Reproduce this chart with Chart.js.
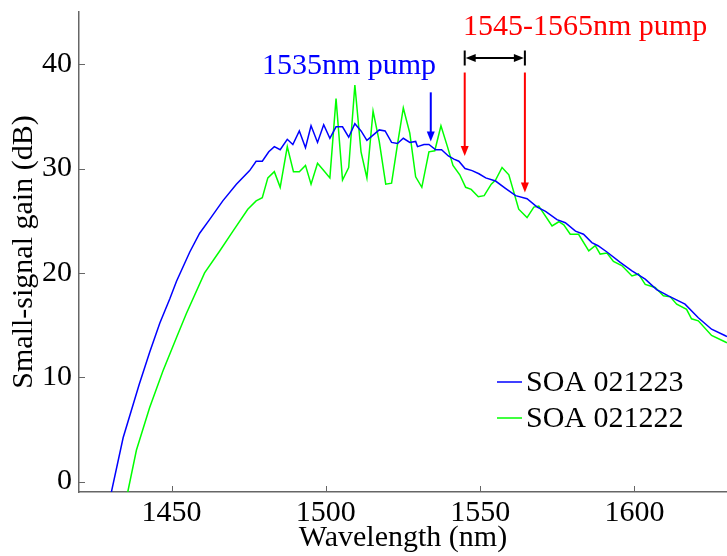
<!DOCTYPE html>
<html>
<head>
<meta charset="utf-8">
<title>Small-signal gain</title>
<script src="https://cdn.jsdelivr.net/npm/chart.js@4/dist/chart.umd.min.js"></script>
<style>
  html, body { margin: 0; padding: 0; background: #fff; }
  #wrap { width: 727px; height: 556px; }
</style>
</head>
<body>
<div id="wrap"><canvas id="gainChart" width="727" height="556"></canvas></div>
<script>
// ===============================
// Data
// ===============================
const wlBlue = [
  1430.5, 1434.3, 1439.5, 1442.9, 1446.2, 1449.4, 1451.6, 1455.9, 1459.1,
  1462.3, 1466.6, 1471.0, 1475.3, 1477.4, 1479.4, 1481.5, 1483.3, 1485.2, 1487.5,
  1489.3, 1491.4, 1493.4, 1495.2, 1497.3, 1499.3, 1501.3, 1503.3, 1505.4, 1507.4,
  1509.4, 1511.4, 1513.3, 1515.3, 1517.3, 1519.2, 1521.3, 1523.2, 1525.1, 1527.2,
  1529.1, 1529.7, 1531.8, 1533.4, 1535.6, 1537.5, 1539.7, 1541.5, 1543.1, 1545.1,
  1547.4, 1549.6, 1551.8, 1555.0, 1558.2, 1561.5, 1565.2, 1568.5, 1571.2, 1574.9,
  1577.6, 1580.9, 1583.5, 1586.2, 1588.2, 1591.1, 1595.4, 1599.2, 1603.5, 1607.2,
  1611.0, 1616.4, 1620.7, 1625.0, 1629.3, 1630.0
];
const gainBlue = [
  -1.0, 4.2, 9.3, 12.4, 15.2, 17.5, 19.2, 22.0, 23.8,
  25.1, 26.9, 28.5, 29.8, 30.7, 30.7, 31.6, 32.1, 31.8, 32.8,
  32.3, 33.6, 32.0, 34.1, 32.5, 34.2, 32.9, 34.0, 34.0, 33.0,
  34.3, 33.6, 32.7, 33.2, 33.7, 33.6, 32.5, 32.4, 32.9, 32.5,
  32.6, 32.1, 32.3, 32.3, 31.8, 31.8, 31.2, 30.9, 30.7, 30.0,
  29.8, 29.5, 29.1, 28.8, 28.1, 27.4, 27.1, 26.3, 25.9, 25.1,
  24.8, 24.0, 23.7, 22.9, 22.6, 22.0, 21.0, 20.2, 19.4, 18.4,
  17.8, 17.0, 15.7, 14.6, 14.0, 13.9
];

const wlGreen = [
  1435.8, 1438.6, 1442.9, 1447.2, 1451.6, 1454.8, 1460.7, 1465.6, 1469.9, 1474.7,
  1477.4, 1479.4, 1481.2, 1483.3, 1485.2, 1487.5, 1489.5, 1491.4, 1493.4, 1495.2,
  1497.3, 1499.3, 1501.3, 1503.3, 1505.4, 1507.4, 1509.4, 1511.4, 1513.3, 1515.3,
  1517.3, 1519.4, 1521.3, 1523.2, 1525.1, 1527.2, 1529.1, 1531.1, 1533.4, 1535.3,
  1537.3, 1539.4, 1541.2, 1543.4, 1545.3, 1547.1, 1549.4, 1551.3, 1553.6, 1555.0,
  1557.1, 1559.3, 1562.5, 1565.2, 1567.4, 1569.0, 1573.3, 1575.5, 1577.1, 1579.2,
  1581.9, 1585.2, 1587.3, 1588.9, 1591.1, 1593.2, 1595.9, 1599.2, 1601.3, 1603.5,
  1606.7, 1609.4, 1611.6, 1613.7, 1616.9, 1618.5, 1620.7, 1625.0, 1629.3, 1630.0
];
const gainGreen = [
  -1.0, 3.0, 7.1, 10.6, 13.8, 16.1, 20.0, 22.1, 24.0, 26.1,
  26.9, 27.2, 29.1, 29.7, 28.2, 32.1, 29.7, 29.7, 30.3, 28.5,
  30.5, 29.8, 29.1, 36.7, 28.9, 30.1, 38.0, 31.6, 29.1, 35.5,
  32.6, 28.5, 28.6, 32.3, 35.8, 33.4, 29.2, 28.2, 31.6, 31.7,
  34.1, 32.1, 30.3, 29.4, 28.2, 28.0, 27.3, 27.4, 28.5, 28.9,
  30.1, 29.4, 26.1, 25.3, 26.3, 26.4, 24.5, 24.9, 24.6, 23.7,
  23.7, 22.1, 22.6, 21.8, 21.9, 21.1, 20.7, 19.7, 19.9, 18.9,
  18.6, 17.8, 17.7, 17.0, 16.5, 15.6, 15.4, 14.0, 13.4, 13.3
];

const seriesNames = ["SOA 021223", "SOA 021222"];
const seriesColors = ["#0000ff", "#00ff00"];
const xTicks = [1450, 1500, 1550, 1600];
const yTicks = [0, 10, 20, 30, 40];

// pump markers (nm, dB)
const bluePump = { wl: 1534, top: 37.3, tip: 32.6 };
const redPumps = [
  { wl: 1545, top: 39.2, tip: 31.2 },
  { wl: 1564.5, top: 39.2, tip: 27.7 },
];
const pumpSpan = { from: 1545, to: 1564.5, gain: 40.6 };
const blueLabel = { text: "1535nm pump", wl: 1507.5, gain: 39.1 };
const redLabel = { text: "1545-1565nm pump", wl: 1584, gain: 42.8 };

const serif = "'Liberation Serif', 'Times New Roman', serif";
const axisGray = "#666";

// ===============================
// Helpers
// ===============================
function toPoints(xs, ys) {
  return xs.map((x, i) => ({ x, y: ys[i] }));
}

function arrowHead(ctx, tipX, tipY, dirX, dirY) {
  // filled head, 10px long, 8px wide
  const len = 10, half = 4;
  const bx = tipX - dirX * len, by = tipY - dirY * len;
  ctx.beginPath();
  ctx.moveTo(tipX, tipY);
  ctx.lineTo(bx - dirY * half, by + dirX * half);
  ctx.lineTo(bx + dirY * half, by - dirX * half);
  ctx.closePath();
  ctx.fill();
}

function downArrow(ctx, x, yTop, yTip, color) {
  ctx.strokeStyle = color;
  ctx.fillStyle = color;
  ctx.lineWidth = 2;
  ctx.beginPath();
  ctx.moveTo(x, yTop);
  ctx.lineTo(x, yTip - 8);
  ctx.stroke();
  arrowHead(ctx, x, yTip, 0, 1);
}

// ===============================
// Plugins: inside ticks, pump annotations, legend
// ===============================
const insideTicks = {
  id: "insideTicks",
  afterDraw(chart) {
    const { ctx, chartArea, scales } = chart;
    ctx.save();
    ctx.strokeStyle = axisGray;
    ctx.lineWidth = 1;
    xTicks.forEach((v) => {
      const px = Math.round(scales.x.getPixelForValue(v)) + 0.5;
      ctx.beginPath();
      ctx.moveTo(px, chartArea.bottom);
      ctx.lineTo(px, chartArea.bottom - 6);
      ctx.stroke();
    });
    yTicks.forEach((v) => {
      const py = Math.round(scales.y.getPixelForValue(v)) + 0.5;
      ctx.beginPath();
      ctx.moveTo(chartArea.left, py);
      ctx.lineTo(chartArea.left + 6, py);
      ctx.stroke();
    });
    ctx.restore();
  },
};

const pumpMarks = {
  id: "pumpMarks",
  afterDatasetsDraw(chart) {
    const { ctx, scales } = chart;
    const X = (v) => scales.x.getPixelForValue(v);
    const Y = (v) => scales.y.getPixelForValue(v);
    ctx.save();

    // blue pump
    downArrow(ctx, X(bluePump.wl), Y(bluePump.top), Y(bluePump.tip), "#0000ff");

    // red pumps
    redPumps.forEach((p) => downArrow(ctx, X(p.wl), Y(p.top), Y(p.tip), "#ff0000"));

    // black span with end bars
    const x1 = X(pumpSpan.from), x2 = X(pumpSpan.to), ys = Y(pumpSpan.gain);
    ctx.strokeStyle = "#000";
    ctx.fillStyle = "#000";
    ctx.lineWidth = 2;
    ctx.beginPath();
    ctx.moveTo(x1 + 8, ys);
    ctx.lineTo(x2 - 8, ys);
    ctx.moveTo(x1, ys - 7.5);
    ctx.lineTo(x1, ys + 7.5);
    ctx.moveTo(x2, ys - 7.5);
    ctx.lineTo(x2, ys + 7.5);
    ctx.stroke();
    arrowHead(ctx, x1 + 1, ys, -1, 0);
    arrowHead(ctx, x2 - 1, ys, 1, 0);

    // labels
    ctx.font = "30px " + serif;
    ctx.textAlign = "center";
    ctx.textBaseline = "alphabetic";
    ctx.fillStyle = "#0000ff";
    ctx.fillText(blueLabel.text, X(blueLabel.wl), Y(blueLabel.gain));
    ctx.fillStyle = "#ff0000";
    ctx.fillText(redLabel.text, X(redLabel.wl), Y(redLabel.gain));

    ctx.restore();
  },
};

const boxLegend = {
  id: "boxLegend",
  afterDatasetsDraw(chart) {
    const { ctx } = chart;
    ctx.save();
    ctx.font = "30px " + serif;
    ctx.textAlign = "left";
    ctx.textBaseline = "middle";
    seriesNames.forEach((name, i) => {
      const y = 382 + i * 36;
      ctx.strokeStyle = seriesColors[i];
      ctx.lineWidth = 1.5;
      ctx.beginPath();
      ctx.moveTo(497, y);
      ctx.lineTo(522, y);
      ctx.stroke();
      ctx.fillStyle = "#000";
      ctx.fillText(name, 526, y + 1);
    });
    ctx.restore();
  },
};

// ===============================
// Chart
// ===============================
const ctx = document.getElementById("gainChart").getContext("2d");
new Chart(ctx, {
  type: "line",
  data: {
    datasets: [
      {
        label: seriesNames[0],
        data: toPoints(wlBlue, gainBlue),
        borderColor: seriesColors[0],
        borderWidth: 1.5,
        pointRadius: 0,
        tension: 0,
      },
      {
        label: seriesNames[1],
        data: toPoints(wlGreen, gainGreen),
        borderColor: seriesColors[1],
        borderWidth: 1.5,
        pointRadius: 0,
        tension: 0,
      },
    ],
  },
  options: {
    responsive: false,
    animation: false,
    devicePixelRatio: 1,
    layout: { padding: { top: 12, right: 0, left: 0, bottom: 0 } },
    plugins: { legend: { display: false }, tooltip: { enabled: false } },
    scales: {
      x: {
        type: "linear",
        min: 1420,
        max: 1630,
        afterBuildTicks: (scale) => { scale.ticks = xTicks.map((v) => ({ value: v })); },
        afterFit: (scale) => {
          scale.height = 64;
          scale.paddingLeft = 0;
          scale.paddingRight = 0;
        },
        grid: { display: false, drawTicks: false },
        border: { display: true, color: axisGray, width: 1.5 },
        ticks: {
          color: "#000",
          padding: 3,
          maxRotation: 0,
          font: { family: serif, size: 30 },
          callback: (v) => String(v),
        },
        title: {
          display: true,
          text: "Wavelength (nm)",
          color: "#000",
          padding: { top: 0, bottom: 0 },
          font: { family: serif, size: 30 },
        },
      },
      y: {
        type: "linear",
        min: -1,
        max: 45,
        afterBuildTicks: (scale) => { scale.ticks = yTicks.map((v) => ({ value: v })); },
        afterFit: (scale) => {
          scale.width = 79;
          scale.paddingTop = 0;
          scale.paddingBottom = 0;
        },
        grid: { display: false, drawTicks: false },
        border: { display: true, color: axisGray, width: 1.5 },
        ticks: { color: "#000", padding: 7, font: { family: serif, size: 30 } },
        title: {
          display: true,
          text: "Small-signal gain (dB)",
          color: "#000",
          padding: { top: 6, bottom: 0 },
          font: { family: serif, size: 30 },
        },
      },
    },
  },
  plugins: [insideTicks, pumpMarks, boxLegend],
});
</script>
</body>
</html>
